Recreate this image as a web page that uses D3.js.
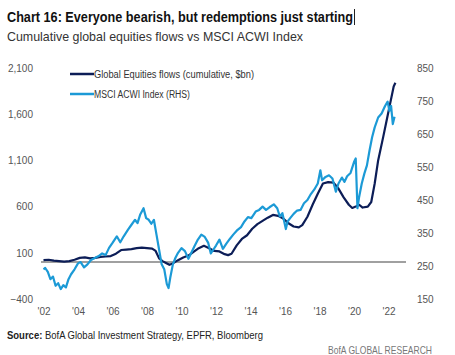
<!DOCTYPE html>
<html><head><meta charset="utf-8">
<script src="https://cdn.jsdelivr.net/npm/d3@7"></script>
<style>
body{margin:0;background:#fff;}
text{font-family:"Liberation Sans Narrow","Arial Narrow","Liberation Sans",Arial,sans-serif;}
</style></head>
<body><svg id="c" width="455" height="355"></svg>
<script>
const titleText = "Chart 16: Everyone bearish, but redemptions just starting";
const subtitleText = "Cumulative global equities flows vs MSCI ACWI Index";
const seriesNames = ["Global Equities flows (cumulative, $bn)", "MSCI ACWI Index (RHS)"];
const leftTicks = [-400, 100, 600, 1100, 1600, 2100];
const rightTicks = [150, 250, 350, 450, 550, 650, 750, 850];
const yearTicks = [2002, 2004, 2006, 2008, 2010, 2012, 2014, 2016, 2018, 2020, 2022];

const flowYears = [2002.0,2002.3,2002.6,2002.9,2003.2,2003.5,2003.8,2004.1,2004.4,2004.7,2005.0,2005.3,2005.6,2005.9,2006.2,2006.5,2006.8,2007.1,2007.4,2007.7,2008.0,2008.3,2008.5,2008.7,2008.9,2009.1,2009.3,2009.5,2009.8,2010.1,2010.4,2010.7,2011.0,2011.3,2011.6,2011.9,2012.2,2012.5,2012.7,2012.9,2013.2,2013.5,2013.8,2014.1,2014.4,2014.7,2015.0,2015.3,2015.6,2015.9,2016.2,2016.5,2016.8,2017.0,2017.3,2017.6,2017.9,2018.2,2018.5,2018.8,2019.1,2019.4,2019.7,2019.9,2020.1,2020.3,2020.5,2020.8,2021.0,2021.2,2021.4,2021.7,2021.9,2022.1,2022.3,2022.4];
const flowValues = [20,25,15,10,5,10,25,45,50,40,45,55,60,65,90,130,135,140,150,155,150,145,120,40,10,-10,-30,-15,20,50,70,110,150,175,150,120,115,85,75,90,180,250,290,360,410,445,480,510,500,470,420,385,375,400,490,620,740,850,865,860,795,700,620,585,600,620,590,600,650,850,1100,1360,1540,1720,1900,1940];

const msciYears = [2002.0,2002.1,2002.25,2002.4,2002.55,2002.7,2002.85,2003.0,2003.15,2003.3,2003.45,2003.6,2003.8,2004.0,2004.15,2004.35,2004.55,2004.75,2005.0,2005.2,2005.4,2005.6,2005.8,2006.0,2006.25,2006.45,2006.65,2006.9,2007.1,2007.3,2007.45,2007.6,2007.8,2007.95,2008.1,2008.25,2008.4,2008.55,2008.7,2008.85,2009.0,2009.15,2009.25,2009.35,2009.5,2009.65,2009.8,2010.0,2010.2,2010.4,2010.55,2010.75,2010.95,2011.15,2011.35,2011.55,2011.7,2011.85,2012.0,2012.2,2012.4,2012.6,2012.8,2013.0,2013.2,2013.45,2013.65,2013.85,2014.05,2014.3,2014.5,2014.7,2014.9,2015.1,2015.35,2015.55,2015.7,2015.85,2016.05,2016.15,2016.3,2016.5,2016.7,2016.9,2017.1,2017.3,2017.5,2017.7,2017.9,2018.05,2018.15,2018.35,2018.55,2018.75,2018.95,2019.1,2019.3,2019.45,2019.6,2019.8,2020.0,2020.1,2020.2,2020.3,2020.45,2020.6,2020.75,2020.9,2021.05,2021.2,2021.4,2021.6,2021.8,2021.95,2022.05,2022.15,2022.25,2022.35];
const msciValues = [240,244,232,210,218,190,198,180,192,185,210,225,240,258,262,246,255,268,275,280,288,283,305,320,340,322,340,360,375,390,380,405,425,395,390,378,390,345,300,255,240,195,183,215,255,275,290,304,295,272,288,310,330,345,338,320,288,300,312,330,302,318,332,345,357,368,385,398,395,415,420,430,420,428,437,425,400,410,362,385,395,408,418,420,440,450,468,482,500,540,510,520,525,515,475,500,518,505,522,532,565,576,425,460,500,530,555,600,640,670,700,712,735,748,720,735,680,702];

const svg = d3.select("#c");
const x = d3.scaleLinear().domain([2002, 2022]).range([43.5, 388.5]);
const yL = d3.scaleLinear().domain([-400, 2100]).range([299, 68]);
const yR = d3.scaleLinear().domain([150, 850]).range([299, 68]);

// title
svg.append("text").attr("x", 7).attr("y", 22).attr("font-weight", "bold").attr("font-size", 14.5)
  .attr("fill", "#111").attr("textLength", 346).attr("lengthAdjust", "spacingAndGlyphs").text(titleText);
svg.append("line").attr("x1", 354.5).attr("x2", 354.5).attr("y1", 9).attr("y2", 25).attr("stroke", "#222").attr("stroke-width", 1);
svg.append("text").attr("x", 7).attr("y", 41).attr("font-size", 13.5)
  .attr("fill", "#333").attr("textLength", 296).attr("lengthAdjust", "spacingAndGlyphs").text(subtitleText);

const axFont = "'Liberation Sans Narrow','Liberation Sans',Arial,sans-serif";
// left axis
const axL = d3.axisLeft(yL).tickValues(leftTicks).tickSize(0).tickPadding(0).tickFormat(d3.format(","));
const gL = svg.append("g").attr("transform", "translate(33,0)").call(axL);
gL.select(".domain").remove();
gL.selectAll("text").attr("font-size", 10).attr("fill", "#555").style("font-family", axFont);

// right axis
const axR = d3.axisRight(yR).tickValues(rightTicks).tickSize(0).tickPadding(0);
const gR = svg.append("g").attr("transform", "translate(417,0)").call(axR);
gR.select(".domain").remove();
gR.selectAll("text").attr("font-size", 10).attr("fill", "#555").style("font-family", axFont);

// x axis
const axX = d3.axisBottom(x).tickValues(yearTicks).tickSize(0).tickPadding(0)
  .tickFormat(d => "'" + String(d).slice(2));
const gX = svg.append("g").attr("transform", "translate(0,308)").call(axX);
gX.select(".domain").remove();
gX.selectAll("text").attr("font-size", 10).attr("fill", "#555").style("font-family", axFont);

// zero line
svg.append("line").attr("x1", 41).attr("x2", 406).attr("y1", yL(0)).attr("y2", yL(0))
  .attr("stroke", "#808080").attr("stroke-width", 1.6);

const flowData = flowYears.map((t, i) => [t, flowValues[i]]);
const msciData = msciYears.map((t, i) => [t, msciValues[i]]);

svg.append("path").datum(flowData)
  .attr("d", d3.line().x(d => x(d[0])).y(d => yL(d[1])))
  .attr("fill", "none").attr("stroke", "#0c1d57").attr("stroke-width", 2.2).attr("stroke-linejoin", "round");
svg.append("path").datum(msciData)
  .attr("d", d3.line().x(d => x(d[0])).y(d => yR(d[1])))
  .attr("fill", "none").attr("stroke", "#1c9ad6").attr("stroke-width", 2.2).attr("stroke-linejoin", "round");

// legend
const leg = [{c: "#0c1d57", n: seriesNames[0], y: 74, w: 160}, {c: "#1c9ad6", n: seriesNames[1], y: 94, w: 96}];
leg.forEach(l => {
  svg.append("line").attr("x1", 70).attr("x2", 94).attr("y1", l.y).attr("y2", l.y).attr("stroke", l.c).attr("stroke-width", 2.5);
  svg.append("text").attr("x", 94).attr("y", l.y).attr("dy", "0.35em").attr("font-size", 10).attr("fill", "#333")
    .attr("textLength", l.w).attr("lengthAdjust", "spacingAndGlyphs").text(l.n);
});

// source
const src = svg.append("text").attr("x", 7).attr("y", 339).attr("font-size", 10.5).attr("fill", "#222")
  .attr("textLength", 256).attr("lengthAdjust", "spacingAndGlyphs");
src.append("tspan").attr("font-weight", "bold").text("Source:");
src.append("tspan").text("  BofA Global Investment Strategy, EPFR, Bloomberg");
svg.append("text").attr("x", 432).attr("y", 354).attr("text-anchor", "end").attr("font-size", 10.5)
  .attr("fill", "#777").attr("textLength", 104).attr("lengthAdjust", "spacingAndGlyphs").text("BofA GLOBAL RESEARCH");
</script></body></html>
